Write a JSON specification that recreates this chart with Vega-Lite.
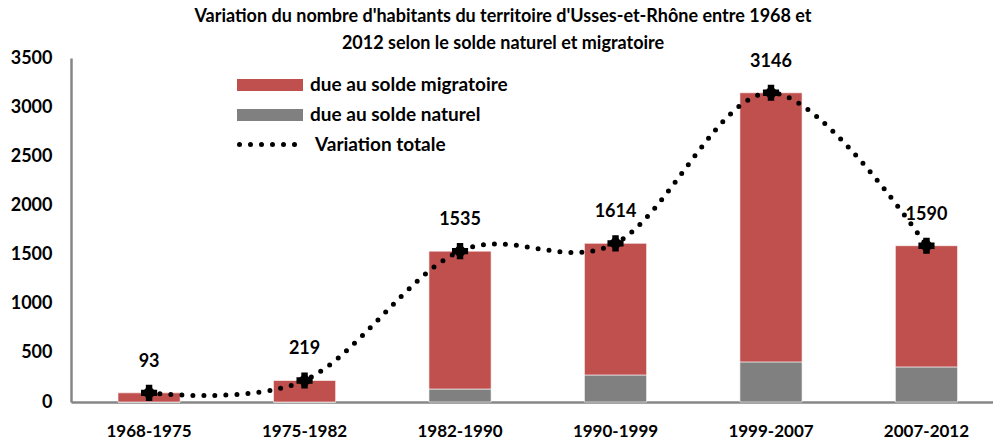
{
  "$schema": "https://vega.github.io/schema/vega-lite/v6.json",
  "width": 922,
  "height": 344,
  "autosize": "none",
  "padding": {"left": 71, "top": 58, "right": 0, "bottom": 45},
  "background": "white",
  "config": {
    "font": "Lato, Open Sans, sans-serif",
    "view": {"stroke": null},
    "legend": {"padding": 0}
  },
  "title": {
    "text": ["Variation du nombre d'habitants du territoire d'Usses-et-Rhône entre 1968 et", "2012 selon le solde naturel et migratoire"],
    "fontSize": 18,
    "fontWeight": "bold",
    "color": "#000000",
    "anchor": "middle",
    "dx": -29,
    "lineHeight": 27,
    "offset": -4
  },
  "datasets": {
    "bars": [
      {"period": "1968-1975", "type": "due au solde naturel", "value": 0},
      {"period": "1968-1975", "type": "due au solde migratoire", "value": 93},
      {"period": "1975-1982", "type": "due au solde naturel", "value": 0},
      {"period": "1975-1982", "type": "due au solde migratoire", "value": 219},
      {"period": "1982-1990", "type": "due au solde naturel", "value": 132},
      {"period": "1982-1990", "type": "due au solde migratoire", "value": 1403},
      {"period": "1990-1999", "type": "due au solde naturel", "value": 275},
      {"period": "1990-1999", "type": "due au solde migratoire", "value": 1339},
      {"period": "1999-2007", "type": "due au solde naturel", "value": 408},
      {"period": "1999-2007", "type": "due au solde migratoire", "value": 2738},
      {"period": "2007-2012", "type": "due au solde naturel", "value": 357},
      {"period": "2007-2012", "type": "due au solde migratoire", "value": 1233}
    ],
    "totals": [
      {"period": "1968-1975", "total": 93, "serie": "Variation totale"},
      {"period": "1975-1982", "total": 219, "serie": "Variation totale"},
      {"period": "1982-1990", "total": 1535, "serie": "Variation totale"},
      {"period": "1990-1999", "total": 1614, "serie": "Variation totale"},
      {"period": "1999-2007", "total": 3146, "serie": "Variation totale"},
      {"period": "2007-2012", "total": 1590, "serie": "Variation totale"}
    ]
  },
  "encoding": {
    "x": {
      "field": "period",
      "type": "nominal",
      "sort": null,
      "scale": {"paddingInner": 0.6, "paddingOuter": 0.265, "align": 0.57},
      "axis": {
        "title": null,
        "labelAngle": 0,
        "labelFontSize": 17,
        "labelFontWeight": "bold",
        "labelColor": "#000000",
        "labelPadding": 21,
        "ticks": false,
        "domainColor": "#868686",
        "domainWidth": 2.5
      }
    }
  },
  "layer": [
    {
      "data": {"name": "bars"},
      "mark": {"type": "bar", "stroke": "#ffffff", "strokeWidth": 0.6},
      "encoding": {
        "y": {
          "field": "value",
          "type": "quantitative",
          "stack": "zero",
          "scale": {"domain": [0, 3500], "nice": false},
          "axis": {
            "title": null,
            "values": [0, 500, 1000, 1500, 2000, 2500, 3000, 3500],
            "format": "d",
            "grid": false,
            "labelFontSize": 18,
            "labelFontWeight": "bold",
            "labelColor": "#000000",
            "labelPadding": 19,
            "ticks": false,
            "domainColor": "#868686",
            "domainWidth": 2.5
          }
        },
        "color": {
          "field": "type",
          "type": "nominal",
          "scale": {"domain": ["due au solde migratoire", "due au solde naturel"], "range": ["#C0504D", "#808080"]},
          "legend": {
            "title": null,
            "orient": "none",
            "legendX": 189,
            "legendY": 17,
            "symbolType": "M-3.3,-0.6H3.3V0.6H-3.3Z",
            "symbolSize": 400,
            "symbolStrokeWidth": 0,
            "labelFontSize": 19,
            "labelFontWeight": "bold",
            "labelColor": "#000000",
            "labelOffset": 30,
            "rowPadding": 10,
            "labelLimit": 400
          }
        },
        "order": {"field": "type", "sort": "descending"}
      }
    },
    {
      "data": {"name": "totals"},
      "mark": {"type": "line", "interpolate": "cardinal", "strokeWidth": 5, "strokeDash": [0, 11], "strokeCap": "round"},
      "encoding": {
        "y": {"field": "total", "type": "quantitative"},
        "stroke": {
          "field": "serie",
          "type": "nominal",
          "scale": {"range": ["#000000"]},
          "legend": {
            "title": null,
            "orient": "none",
            "legendX": 189,
            "legendY": 74,
            "symbolType": "M-3.3,0H3.3",
            "symbolSize": 400,
            "symbolStrokeWidth": 5,
            "symbolDash": [0, 11],
            "labelFontSize": 19,
            "labelFontWeight": "bold",
            "labelColor": "#000000",
            "labelOffset": 30,
            "labelLimit": 400,
            "encode": {"symbols": {"update": {"strokeCap": {"value": "round"}}}}
          }
        }
      }
    },
    {
      "data": {"name": "totals"},
      "mark": {"type": "point", "shape": "cross", "filled": true, "color": "#000000", "size": 260, "opacity": 1},
      "encoding": {"y": {"field": "total", "type": "quantitative"}}
    },
    {
      "data": {"name": "totals"},
      "mark": {"type": "point", "shape": "diamond", "filled": true, "color": "#000000", "size": 240, "opacity": 1},
      "encoding": {"y": {"field": "total", "type": "quantitative"}}
    },
    {
      "data": {"name": "totals"},
      "mark": {"type": "text", "dy": -31, "fontSize": 18, "fontWeight": "bold", "color": "#000000", "baseline": "middle"},
      "encoding": {
        "y": {"field": "total", "type": "quantitative"},
        "text": {"field": "total", "type": "quantitative"}
      }
    }
  ]
}
